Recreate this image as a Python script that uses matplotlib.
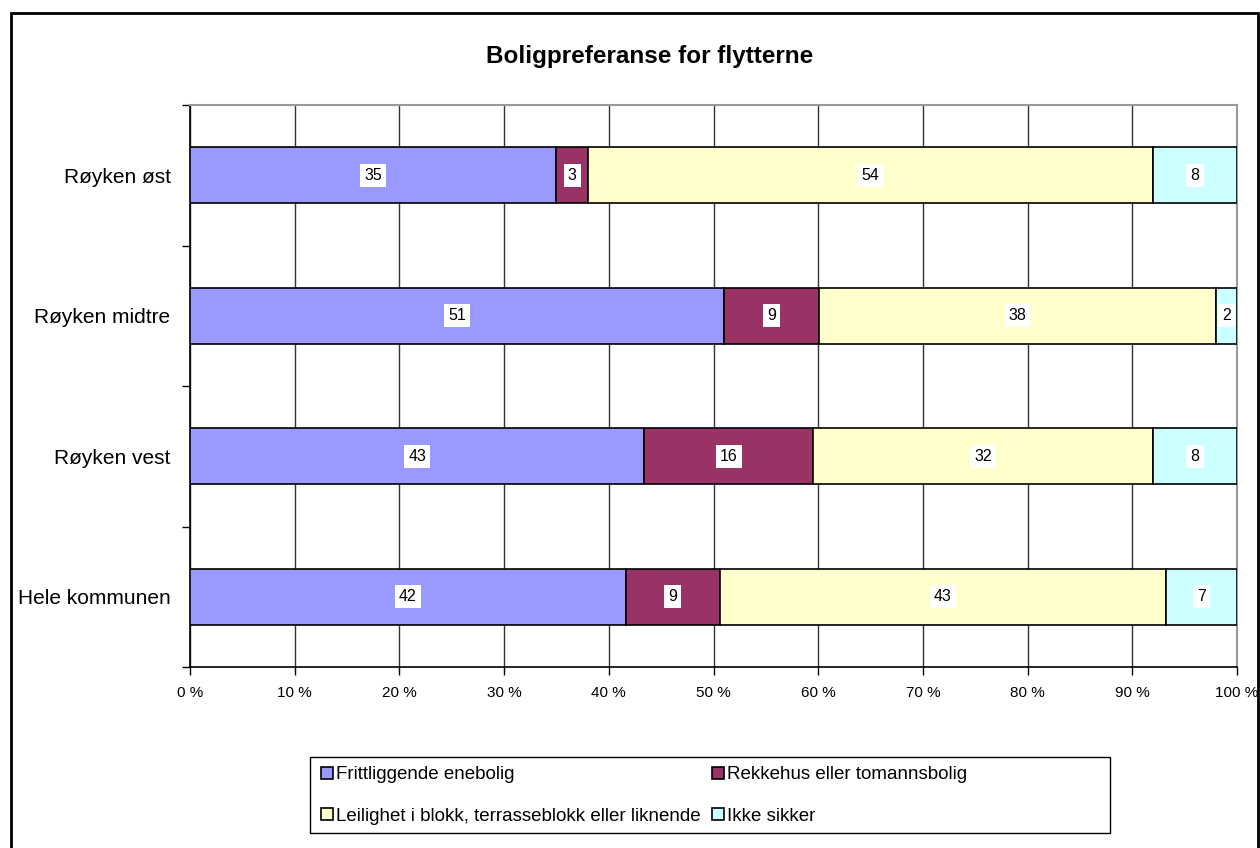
import numpy as np
import matplotlib.pyplot as plt
from matplotlib.patches import Rectangle

plt.rcParams['font.family'] = ['Liberation Sans', 'DejaVu Sans']

categories = ["Røyken øst", "Røyken midtre", "Røyken vest", "Hele kommunen"]
series = ["Frittliggende enebolig", "Rekkehus eller tomannsbolig",
          "Leilighet i blokk, terrasseblokk eller liknende", "Ikke sikker"]
# share in percent per category (top to bottom)
enebolig = [35.0, 51.0, 43.4, 41.6]
rekkehus = [3.0, 9.1, 16.1, 9.0]
leilighet = [54.0, 37.9, 32.5, 42.6]
ikke_sikker = [8.0, 2.0, 8.0, 6.8]
colors = ["#9999FF", "#993366", "#FFFFCC", "#CCFFFF"]

W, H = 1260, 848
fig = plt.figure(figsize=(W / 100, H / 100), dpi=100)
ax = fig.add_axes([190 / W, 1 - 667 / H, (1237 - 190) / W, (667 - 105) / H])

ypos = np.arange(len(categories))[::-1]
left = np.zeros(len(categories))
for name, vals, c in zip(series, [enebolig, rekkehus, leilighet, ikke_sikker], colors):
    vals = np.array(vals)
    ax.barh(ypos, vals, left=left, height=0.4, color=c, edgecolor="black",
            linewidth=1.2, label=name, zorder=3)
    for y, l, v in zip(ypos, left, vals):
        ax.text(l + v / 2, y, f"{v:.0f}", ha="center", va="center", fontsize=11.5,
                zorder=4, bbox=dict(facecolor="white", edgecolor="none", pad=3))
    left += vals

ax.set_xlim(0, 100)
ax.set_ylim(-0.5, len(categories) - 0.5)
ax.set_xticks(np.arange(0, 101, 10))
ax.set_xticklabels([f"{v} %" for v in range(0, 101, 10)], fontsize=11)
ax.set_yticks(ypos)
ax.set_yticklabels(categories, fontsize=15)
ax.set_yticks(np.arange(-0.5, len(categories), 1), minor=True)
ax.tick_params(axis="y", which="major", length=0, pad=14)
ax.tick_params(axis="y", which="minor", length=6, width=1, direction="out")
ax.tick_params(axis="x", length=6, width=1, direction="out", pad=8)
ax.grid(axis="x", color="#333333", linewidth=1, zorder=0)
ax.set_axisbelow(True)
for s in ["top", "right"]:
    ax.spines[s].set_color("#999999")
    ax.spines[s].set_linewidth(1.5)
for s in ["left", "bottom"]:
    ax.spines[s].set_color("black")
    ax.spines[s].set_linewidth(1.2)

fig.text(650 / W, 1 - 57 / H, "Boligpreferanse for flytterne", ha="center", va="center",
         fontsize=17.5, fontweight="bold")

handles, labels = ax.get_legend_handles_labels()
order = [0, 2, 1, 3]
fig.legend([handles[i] for i in order], [labels[i] for i in order], ncol=2,
           loc="upper left", bbox_to_anchor=(312 / W, 1 - 757 / H), frameon=False,
           fontsize=13.5, handlelength=0.6, handleheight=0.6, handletextpad=0.2,
           columnspacing=0.6, labelspacing=1.3, borderpad=0)
fig.patches.append(Rectangle((310 / W, 1 - 833 / H), 800 / W, 76 / H, transform=fig.transFigure,
                             facecolor="none", edgecolor="black", linewidth=1))
fig.patches.append(Rectangle((11 / W, -0.05), (1258 - 11) / W, 1.05 - 13 / H,
                             transform=fig.transFigure, facecolor="none",
                             edgecolor="black", linewidth=2))

fig.savefig("out.png", dpi=100)
